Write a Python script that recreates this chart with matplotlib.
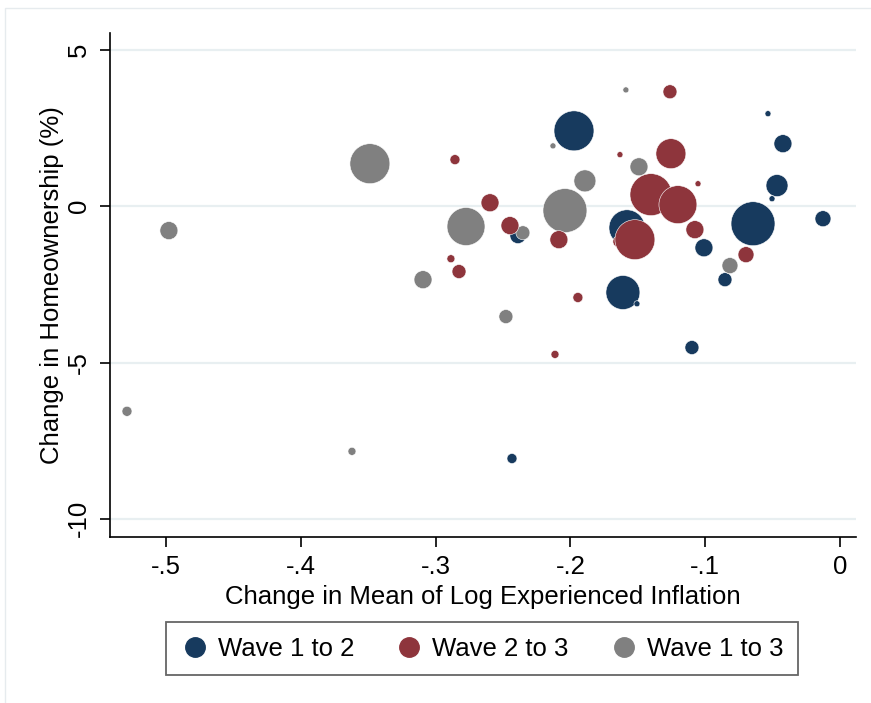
import matplotlib
matplotlib.use("Agg")
import matplotlib.pyplot as plt
from matplotlib.lines import Line2D
from matplotlib.patches import Rectangle
import numpy as np

plt.rcParams['font.family'] = ['Liberation Sans', 'DejaVu Sans']

# Wave 1 to 2
x12 = [-0.1973, -0.158, -0.161, -0.0645, -0.0423, -0.0467, -0.0126, -0.0534,
       -0.1009, -0.0853, -0.1098, -0.2433, -0.2389, -0.0504, -0.1506]
y12 = [2.41, -0.69, -2.76, -0.56, 2.00, 0.66, -0.40, 2.96,
       -1.33, -2.35, -4.52, -8.07, -0.94, 0.24, -3.12]
w12 = [4.0, 3.24, 2.89, 4.84, 0.81, 1.21, 0.64, 0.09,
       0.81, 0.49, 0.49, 0.25, 0.64, 0.09, 0.09]

# Wave 2 to 3
x23 = [-0.1261, -0.1254, -0.1402, -0.1202, -0.164, -0.1521, -0.1076, -0.1053,
       -0.1632, -0.0697, -0.2856, -0.2596, -0.2448, -0.2085, -0.2886, -0.2826,
       -0.1944, -0.2114]
y23 = [3.66, 1.68, 0.37, 0.05, -1.13, -1.07, -0.75, 0.72,
       1.65, -1.55, 1.49, 0.11, -0.62, -1.07, -1.68, -2.09,
       -2.92, -4.74]
w23 = [0.49, 2.25, 4.41, 3.61, 0.36, 4.0, 0.81, 0.09,
       0.09, 0.64, 0.25, 0.81, 0.81, 0.81, 0.16, 0.49,
       0.25, 0.16]

# Wave 1 to 3
x13 = [-0.1588, -0.2129, -0.3487, -0.4978, -0.5289, -0.362, -0.2774, -0.204,
       -0.1892, -0.2352, -0.1491, -0.0816, -0.3093, -0.2478]
y13 = [3.72, 1.93, 1.36, -0.78, -6.56, -7.84, -0.65, -0.14,
       0.81, -0.85, 1.26, -1.90, -2.35, -3.53]
w13 = [0.09, 0.09, 4.0, 0.81, 0.25, 0.16, 3.61, 4.84,
       1.21, 0.49, 0.81, 0.64, 0.81, 0.49]

labels = ["Wave 1 to 2", "Wave 2 to 3", "Wave 1 to 3"]
colors = ["#173a5e", "#8e353c", "#808080"]

fig = plt.figure(figsize=(8.71, 7.03), dpi=100)
fig.patch.set_facecolor("white")
# outer graph region border
fig.patches.append(Rectangle((5 / 871, -0.05), 2, (703 - 8) / 703 + 0.05,
                             transform=fig.transFigure, fill=False,
                             edgecolor="#e6ebee", lw=1.0))

ax = fig.add_axes([110 / 871, 1 - 537 / 703, (856 - 110) / 871, (537 - 33) / 703])

scale = 207.0
series = [(x12, y12, w12, 3), (x23, y23, w23, 5), (x13, y13, w13, 4)]
for (xs, ys, ws, z), c in zip(series, colors):
    ax.scatter(xs, ys, s=np.asarray(ws) * scale, c=c, edgecolors="white",
               linewidths=0.4, zorder=z)

ax.set_xlim(-0.5415, 0.0119)
ax.set_ylim(-10.58, 5.54)

fs = 18.5
ax.set_yticks([5, 0, -5, -10])
ax.set_yticklabels(["5", "0", "-5", "-10"], rotation=90, va="center")
ax.set_xticks([-0.5, -0.4, -0.3, -0.2, -0.1, 0])
ax.set_xticklabels(["-.5", "-.4", "-.3", "-.2", "-.1", "0"])

ax.grid(axis="y", color="#e8eff1", lw=1.6, zorder=0)
ax.set_axisbelow(True)
for sp in ["top", "right"]:
    ax.spines[sp].set_visible(False)
for sp in ["left", "bottom"]:
    ax.spines[sp].set_linewidth(1.2)
ax.tick_params(axis="both", direction="out", length=7, width=1.2,
               labelsize=fs)
ax.tick_params(axis="x", pad=6)
ax.tick_params(axis="y", pad=7)

ax.set_xlabel("Change in Mean of Log Experienced Inflation", fontsize=fs, labelpad=4)
ax.set_ylabel("Change in Homeownership (%)", fontsize=fs, labelpad=2)

handles = [Line2D([], [], ls="none", marker="o", markersize=14,
                  markerfacecolor=c, markeredgecolor=c) for c in colors]
leg = fig.legend(handles, labels, loc="center", ncol=3,
                 bbox_to_anchor=(482 / 871, 1 - 648.5 / 703),
                 fontsize=fs, frameon=True, fancybox=False,
                 handletextpad=0.35, columnspacing=1.6, borderpad=0.55,
                 handlelength=1.1)
leg.get_frame().set_edgecolor("#404040")
leg.get_frame().set_linewidth(1.3)

fig.savefig("out.png", dpi=100, facecolor="white")
